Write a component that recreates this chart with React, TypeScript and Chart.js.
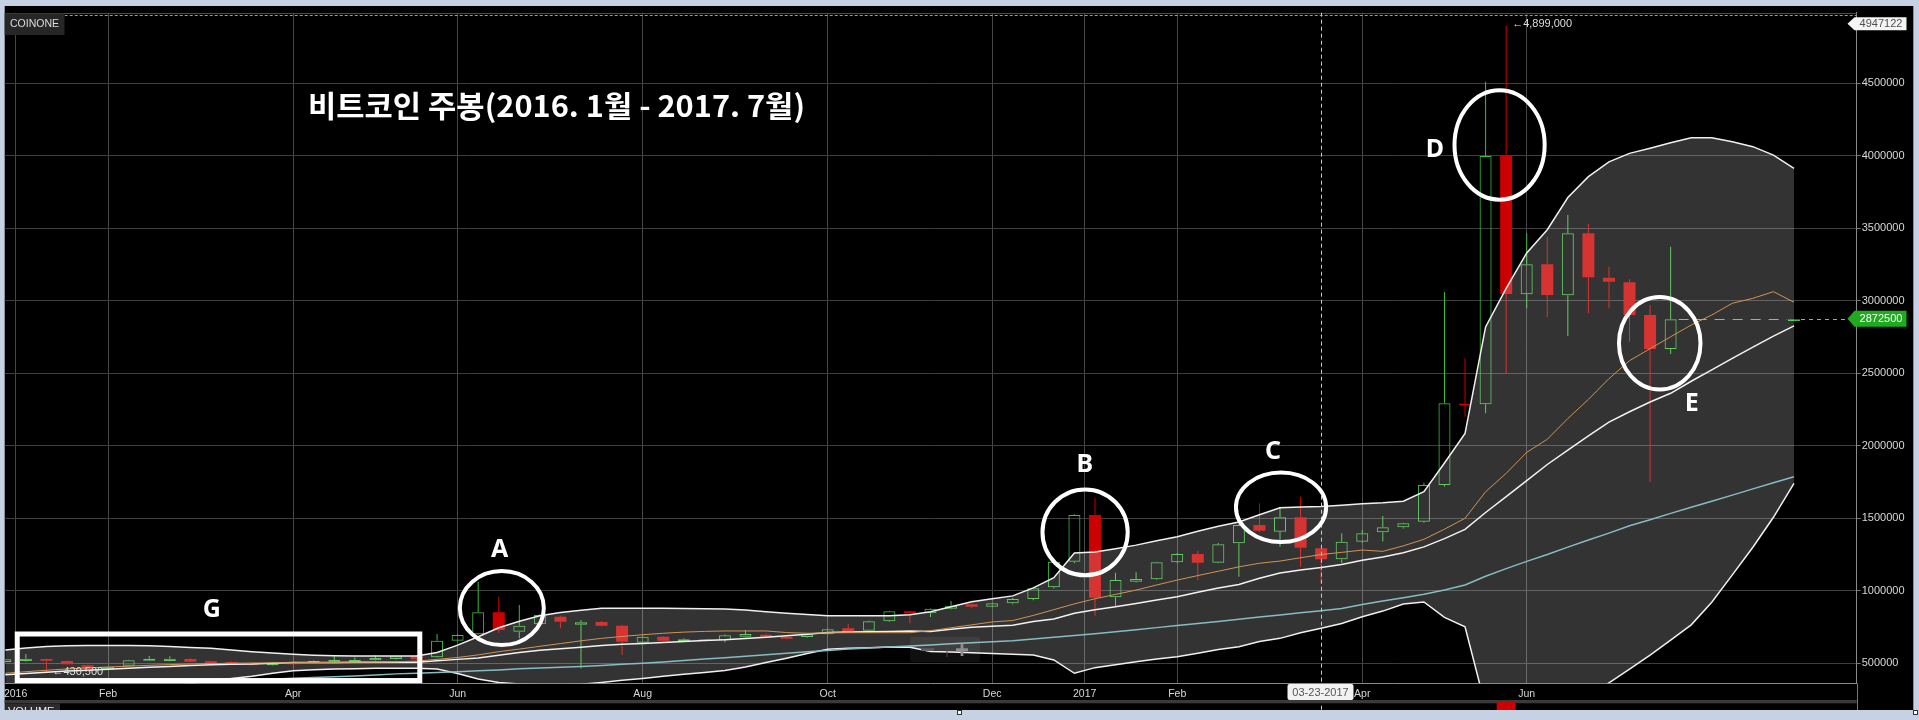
import React, { useEffect, useRef } from "react";
import { Chart, registerables } from "chart.js";

Chart.register(...registerables);

const W = 1919;
const H = 720;

// ---------------- data : weekly candles (thousand KRW), week 0 = 2015-12-28 ----------------
const OPEN_K = [
  509, 516, 530, 516, 486, 459, 483, 518, 516, 530,
  514, 509, 502, 486, 507, 509, 511, 511, 521, 530,
  548, 541, 656, 700, 852, 718, 769, 821, 766, 785,
  759, 642, 683, 652, 666, 661, 683, 697, 683, 681,
  700, 741, 725, 790, 859, 845, 877, 907, 890, 914,
  943, 1024, 1201, 1523, 955, 1063, 1079, 1197, 1254, 1194,
  1328, 1454, 1408, 1507, 1293, 1217, 1339, 1404, 1438, 1476,
  1730, 2290, 2286, 3999, 3045, 3252, 3038, 3466, 3159, 3128,
  2902, 2668, null, null, null, null, null, 2860,
];
const HIGH_K = [
  530, 564, 532, 520, 490, 480, 525, 550, 548, 534,
  518, 512, 505, 503, 510, 520, 550, 540, 553, 552,
  552, 702, 700, 1063, 959, 902, 840, 828, 799, 790,
  765, 690, 688, 672, 668, 700, 730, 705, 690, 705,
  738, 770, 795, 862, 862, 880, 930, 912, 917, 950,
  1020, 1205, 1528, 1638, 1125, 1128, 1200, 1260, 1276, 1330,
  1460, 1603, 1580, 1649, 1300, 1397, 1420, 1516, 1470, 1745,
  3060, 2603, 4511, 4899, 3466, 3442, 3592, 3530, 3235, 3148,
  2971, 3373, null, null, null, null, null, 2875,
];
const LOW_K = [
  505, 512, 430.5, 490, 460, 455, 480, 515, 514, 508,
  499, 497, 486, 483, 490, 506, 508, 508, 518, 527,
  525, 538, 650, 695, 711, 672, 760, 741, 466, 755,
  557, 635, 650, 648, 650, 645, 680, 680, 665, 678,
  697, 712, 720, 785, 776, 820, 873, 880, 887, 908,
  935, 1015, 1190, 828, 895, 1058, 1075, 1190, 1074, 1190,
  1097, 1408, 1304, 1166, 1050, 1190, 1330, 1340, 1430, 1470,
  1720, 2200, 2224, 2500, 2948, 2886, 2757, 2914, 2948, 2718,
  1752, 2633, null, null, null, null, null, 2860,
];
const CLOSE_K = [
  528, 532, 518, 493, 463, 477, 521, 532, 532, 511,
  502, 500, 490, 500, 493, 516, 523, 523, 537, 548,
  528, 656, 695, 852, 730, 759, 833, 787, 783, 759,
  649, 683, 656, 666, 656, 693, 702, 683, 670, 700,
  734, 718, 790, 859, 845, 877, 897, 890, 914, 943,
  1017, 1201, 1523, 952, 1074, 1081, 1197, 1254, 1194, 1321,
  1454, 1414, 1507, 1297, 1217, 1339, 1397, 1438, 1466, 1730,
  2293, 2280, 3999, 3047, 3252, 3040, 3466, 3162, 3132, 2902,
  2668, 2872.5, null, null, null, null, null, 2872.5,
];

// Bollinger band (20) and moving averages, thousand KRW
const BB_UPPER_K = [
  592, 605, 615, 621, 622, 622, 622, 621, 615, 609,
  603, 592, 580, 571, 562, 556, 552, 551, 550, 550,
  550, 575, 625, 683, 745, 790, 828, 850, 866, 879,
  879, 879, 879, 878, 877, 875, 868, 856, 845, 836,
  828, 828, 828, 828, 835, 856, 890, 925, 945, 965,
  1020, 1090, 1260, 1268, 1290, 1315, 1345, 1373, 1410, 1445,
  1475, 1525, 1573, 1578, 1582, 1590, 1600, 1607, 1618, 1683,
  1881, 2086, 2820, 3086, 3330, 3490, 3712, 3856, 3958, 4017,
  4052, 4090, 4125, 4125, 4097, 4063, 4005, 3914,
];
const BB_MIDDLE_K = [
  421, 430, 438, 446, 452, 459, 466, 473, 478, 484,
  490, 493, 495, 501, 505, 506, 506, 507, 508, 508,
  508, 517, 527, 537, 556, 574, 590, 600, 610, 623,
  631, 637, 644, 651, 657, 662, 671, 680, 690, 701,
  712, 715, 718, 720, 722, 719, 734, 748, 756, 763,
  788, 806, 845, 869, 890, 912, 937, 959, 990, 1020,
  1044, 1087, 1122, 1144, 1161, 1182, 1210, 1233, 1263, 1303,
  1360, 1424, 1540, 1650, 1760, 1871, 1970, 2069, 2163, 2235,
  2302, 2362, 2445, 2523, 2603, 2681, 2756, 2827,
];
const BB_LOWER_K = [
  250, 255, 262, 272, 283, 296, 310, 325, 342, 360,
  378, 395, 410, 432, 449, 456, 460, 463, 465, 466,
  466, 460, 430, 392, 368, 358, 352, 350, 355, 368,
  383, 395, 410, 425, 437, 450, 475, 505, 535, 567,
  597, 603, 608, 612, 610, 582, 578, 572, 568, 562,
  557, 523, 431, 470, 490, 510, 530, 545, 570, 595,
  614, 650, 672, 710, 741, 775, 821, 860, 909, 923,
  817, 752, 200, 214, 170, 230, 218, 274, 365, 460,
  557, 660, 765, 921, 1110, 1300, 1507, 1741,
];
const MA_ORANGE_K = [
  431, 442, 452, 461, 468, 474, 480, 486, 491, 495,
  498, 500, 502, 503, 504, 505, 506, 507, 508, 510,
  515, 527, 540, 558, 580, 598, 617, 636, 655, 672,
  685, 697, 707, 715, 720, 723, 723, 723, 712, 707,
  710, 711, 711, 711, 711, 725, 745, 765, 785, 795,
  830, 870, 910, 945, 975, 1005, 1040, 1074, 1105, 1135,
  1165, 1190, 1205, 1228, 1250, 1265, 1281, 1272, 1310, 1355,
  1425, 1500, 1683, 1810, 1955, 2045, 2188, 2320, 2463, 2587,
  2670, 2752, 2833, 2902, 2983, 3017, 3063, 2990,
];
const MA_TEAL_K = [
  320, 326, 331, 336, 341, 346, 351, 356, 361, 366,
  372, 378, 384, 390, 396, 402, 408, 413, 420, 427,
  432, 436, 442, 448, 454, 462, 467, 473, 478, 485,
  493, 500, 509, 519, 529, 539, 549, 559, 569, 579,
  589, 598, 605, 612, 620, 627, 635, 642, 648, 656,
  668, 680, 692, 704, 717, 731, 746, 760, 775, 789,
  803, 819, 833, 848, 863, 878, 906, 929, 952, 976,
  1005, 1040, 1100, 1153, 1203, 1250, 1301, 1350, 1398, 1448,
  1490, 1534, 1576, 1618, 1660, 1703, 1745, 1787,
];

// axis ticks (x in week index)
const X_TICK_POS = [0.5, 5, 14, 22, 31, 40, 48, 52.5, 57, 66, 74];
const X_TICK_LABELS = ["2016", "Feb", "Apr", "Jun", "Aug", "Oct", "Dec", "2017", "Feb", "Apr", "Jun"];
const Y_TICKS = [500000, 1000000, 1500000, 2000000, 2500000, 3000000, 3500000, 4000000, 4500000];
const X_MIN = -0.03;
const X_MAX = 90.05;
const Y_MIN = 362000;
const Y_MAX = 4987000;

// annotations
const TITLE = "비트코인 주봉(2016. 1월 - 2017. 7월)";
const LAST_PRICE = 2872500;
const LAST_PRICE_TEXT = "2872500";
const CROSS_WEEK = 64;
const CROSS_DATE = "03-23-2017";
const CROSS_VALUE_TEXT = "4947122";
const LOW_MARK = { week: 2, value: 430500, text: "←430,500" };
const HIGH_MARK = { week: 73, value: 4899000, text: "←4,899,000" };
const VOLUME_PEAK_WEEK = 73;
const CIRCLES = [
  { x: 24.15, y: 881000, rx: 2.14, ry: 269000 },
  { x: 52.52, y: 1403000, rx: 2.17, ry: 310000 },
  { x: 62.05, y: 1576000, rx: 2.29, ry: 253000 },
  { x: 72.68, y: 4075000, rx: 2.29, ry: 391000 },
  { x: 80.47, y: 2707000, rx: 2.08, ry: 333000 },
];
const LETTERS = [
  { t: "A", x: 24.05, y: 1295000 },
  { t: "G", x: 10.04, y: 879000 },
  { t: "B", x: 52.5, y: 1879000 },
  { t: "C", x: 61.66, y: 1971000 },
  { t: "D", x: 69.53, y: 4052000 },
  { t: "E", x: 82.03, y: 2304000 },
];
const G_BOX = { x0: 0.58, x1: 20.16, y0: 381000, y1: 702000 };

// ---------------- styles ----------------
const FRAME = "#c6d2e4";
const GREEN = "#3dbd3d";
const RED = "#cc0000";
const FONT = '"Liberation Sans", Arial, sans-serif';

const toK = (a: (number | null)[]) => a.map((v) => (v == null ? null : v * 1000));

export default function App() {
  const ref = useRef<HTMLCanvasElement>(null);

  useEffect(() => {
    const OPEN = toK(OPEN_K) as number[];
    const HIGH = toK(HIGH_K) as number[];
    const LOW = toK(LOW_K) as number[];
    const CLOSE = toK(CLOSE_K) as number[];
    const idx = OPEN.map((_, i) => i).filter((i) => OPEN[i] != null);
    const up = (i: number) => CLOSE[i] >= OPEN[i];
    const line = (a: (number | null)[]) => toK(a).map((v, i) => ({ x: i, y: v }));

    const overlay = {
      id: "overlay",
      beforeDraw(chart: any) {
        const ctx = chart.ctx;
        ctx.save();
        ctx.fillStyle = FRAME;
        ctx.fillRect(0, 0, W, H);
        ctx.fillStyle = "#000";
        ctx.fillRect(4.7, 6, 1913.3 - 4.7, 710 - 6);
        ctx.restore();
      },
      afterDraw(chart: any) {
        const { ctx, chartArea: ca, scales } = chart;
        const xs = scales.x;
        const ys = scales.y;
        const px = (v: number) => xs.getPixelForValue(v);
        const py = (v: number) => ys.getPixelForValue(v);
        ctx.save();

        // top border
        ctx.strokeStyle = "#4a4a4a";
        ctx.lineWidth = 1;
        ctx.beginPath();
        ctx.moveTo(ca.left, Math.round(ca.top) + 0.5);
        ctx.lineTo(ca.right, Math.round(ca.top) + 0.5);
        ctx.stroke();

        // crosshair
        ctx.strokeStyle = "#9a9a9a";
        ctx.setLineDash([3, 2]);
        ctx.beginPath();
        ctx.moveTo(ca.left, Math.round(ca.top) + 2.5);
        ctx.lineTo(ca.right, Math.round(ca.top) + 2.5);
        ctx.stroke();
        const cx = Math.round(px(CROSS_WEEK)) + 0.5;
        ctx.strokeStyle = "#c8c8c8";
        ctx.setLineDash([4, 3]);
        ctx.beginPath();
        ctx.moveTo(cx, ca.top);
        ctx.lineTo(cx, 710);
        ctx.stroke();

        // last price dashed line
        const lpY = Math.round(py(LAST_PRICE)) + 0.5;
        ctx.strokeStyle = "#a8a8a8";
        ctx.setLineDash([10, 8]);
        ctx.beginPath();
        ctx.moveTo(px(81) + 8, lpY);
        ctx.lineTo(px(87) - 7, lpY);
        ctx.stroke();
        ctx.setLineDash([4, 4]);
        ctx.beginPath();
        ctx.moveTo(px(87) + 7, lpY);
        ctx.lineTo(ca.right, lpY);
        ctx.stroke();
        ctx.setLineDash([]);

        // volume strip
        ctx.fillStyle = "#3a3a3a";
        ctx.fillRect(4.7, 700, ca.right - 4.7, 3.3);
        ctx.fillStyle = RED;
        ctx.fillRect(px(VOLUME_PEAK_WEEK) - 9.5, 701.7, 19, 8.3);
        ctx.save();
        ctx.beginPath();
        ctx.rect(0, 703.3, W, 6.7);
        ctx.clip();
        ctx.fillStyle = "#2c2c2c";
        ctx.fillRect(5, 703.3, 55, 8);
        ctx.fillStyle = "#eeeeee";
        ctx.font = `11px ${FONT}`;
        ctx.textBaseline = "middle";
        ctx.textAlign = "left";
        ctx.fillText("VOLUME", 8, 712);
        ctx.restore();
        ctx.strokeStyle = "#777";
        ctx.lineWidth = 1;
        ctx.beginPath();
        ctx.moveTo(Math.round(ca.right) + 0.5, ca.bottom);
        ctx.lineTo(Math.round(ca.right) + 0.5, 710);
        ctx.stroke();

        // COINONE tag
        ctx.fillStyle = "#262626";
        ctx.fillRect(4.7, 13.5, 59.8, 21.5);
        ctx.fillStyle = "#dddddd";
        ctx.font = `10.5px ${FONT}`;
        ctx.textBaseline = "middle";
        ctx.textAlign = "left";
        ctx.fillText("COINONE", 10, 24.5);

        // zoom control
        ctx.fillStyle = "rgba(255,255,255,0.06)";
        ctx.beginPath();
        ctx.roundRect(910, 636.7, 70, 25.6, 3);
        ctx.fill();
        ctx.fillStyle = "#5e5e5e";
        ctx.fillRect(921, 648.3, 13, 2.6);
        ctx.fillStyle = "#4a4a4a";
        ctx.fillRect(946.5, 646, 1, 11);
        ctx.fillStyle = "#8e8e8e";
        ctx.fillRect(956, 648.3, 12, 2.8);
        ctx.fillRect(960.6, 643.5, 2.8, 12.5);

        // title
        ctx.fillStyle = "#ffffff";
        ctx.font = `bold 30px "Noto Sans CJK KR", "Noto Sans", sans-serif`;
        ctx.textAlign = "left";
        ctx.textBaseline = "middle";
        const tw = ctx.measureText(TITLE).width;
        ctx.save();
        ctx.translate(308, 105.5);
        ctx.scale(497 / tw, 1);
        ctx.fillText(TITLE, 0, 0);
        ctx.restore();

        // G box
        ctx.strokeStyle = "#ffffff";
        ctx.lineWidth = 5;
        const gx0 = px(G_BOX.x0);
        const gx1 = px(G_BOX.x1);
        const gy0 = py(G_BOX.y0);
        const gy1 = py(G_BOX.y1);
        ctx.strokeRect(gx0, gy1, gx1 - gx0, gy0 - gy1);

        // circles
        ctx.lineWidth = 4;
        for (const c of CIRCLES) {
          const ccx = px(c.x);
          const ccy = py(c.y);
          const rx = px(c.x + c.rx) - ccx - 2;
          const ry = py(c.y - c.ry) - ccy - 2;
          ctx.beginPath();
          ctx.ellipse(ccx, ccy, rx, ry, 0, 0, Math.PI * 2);
          ctx.stroke();
        }

        // letters
        ctx.fillStyle = "#ffffff";
        ctx.font = `bold 25px "Noto Sans", sans-serif`;
        ctx.textAlign = "center";
        ctx.textBaseline = "alphabetic";
        for (const l of LETTERS) {
          ctx.fillText(l.t, px(l.x), py(l.y) + 9);
        }

        // extreme labels
        ctx.fillStyle = "#dddddd";
        ctx.font = `11px ${FONT}`;
        ctx.textAlign = "left";
        ctx.textBaseline = "middle";
        ctx.fillText(LOW_MARK.text, px(LOW_MARK.week) + 6, py(LOW_MARK.value) - 1);
        ctx.fillText(HIGH_MARK.text, px(HIGH_MARK.week) + 6, py(HIGH_MARK.value) - 1);

        // right tags
        const tag = (yc: number, h: number, fill: string, color: string, text: string) => {
          ctx.fillStyle = fill;
          ctx.beginPath();
          ctx.moveTo(1847.5, yc);
          ctx.lineTo(1854.5, yc - h / 2);
          ctx.lineTo(1906.5, yc - h / 2);
          ctx.lineTo(1906.5, yc + h / 2);
          ctx.lineTo(1854.5, yc + h / 2);
          ctx.closePath();
          ctx.fill();
          ctx.fillStyle = color;
          ctx.font = `11px ${FONT}`;
          ctx.textAlign = "center";
          ctx.textBaseline = "middle";
          ctx.fillText(text, 1881, yc + 0.5);
        };
        tag(23.7, 13, "#f4f4f4", "#505050", CROSS_VALUE_TEXT);
        tag(py(LAST_PRICE) - 0.5, 16, "#1faa1f", "#ffffff", LAST_PRICE_TEXT);

        // date tag
        ctx.fillStyle = "#f2f2f2";
        ctx.beginPath();
        ctx.roundRect(cx - 34, 684, 66, 16, 2);
        ctx.fill();
        ctx.fillStyle = "#555555";
        ctx.font = `11px ${FONT}`;
        ctx.textAlign = "center";
        ctx.textBaseline = "middle";
        ctx.fillText(CROSS_DATE, cx - 1, 692.5);

        // resize handles
        ctx.fillStyle = "#ffffff";
        ctx.strokeStyle = "#333";
        ctx.lineWidth = 1;
        ctx.fillRect(957.5, 710.5, 4, 4);
        ctx.strokeRect(957.5, 710.5, 4, 4);
        ctx.fillRect(1913.5, 710.5, 4, 4);
        ctx.strokeRect(1913.5, 710.5, 4, 4);

        ctx.restore();
      },
    };

    const cfg: any = {
      type: "line",
      data: {
        datasets: [
          { type: "line", data: line(MA_ORANGE_K), borderColor: "#d09456", borderWidth: 1, pointRadius: 0, tension: 0, fill: false, order: 1 },
          { type: "line", data: line(BB_MIDDLE_K), borderColor: "#f2f2f2", borderWidth: 1.5, pointRadius: 0, tension: 0, fill: false, order: 1 },
          { type: "line", data: line(MA_TEAL_K), borderColor: "#86bcc2", borderWidth: 1.5, pointRadius: 0, tension: 0, fill: false, order: 1 },
          { type: "line", data: line(BB_LOWER_K), borderColor: "#f0f0f0", borderWidth: 1.5, pointRadius: 0, tension: 0, fill: false, order: 2 },
          {
            type: "line", data: line(BB_UPPER_K), borderColor: "#f0f0f0", borderWidth: 1.5, pointRadius: 0, tension: 0,
            fill: { target: 3 }, backgroundColor: "rgba(255,255,255,0.2)", order: 3,
          },
          {
            type: "bar",
            data: idx.map((i) => ({ x: i, y: [OPEN[i], CLOSE[i]] })),
            backgroundColor: idx.map((i) => (up(i) ? "rgba(0,0,0,0)" : RED)),
            borderColor: idx.map((i) => (up(i) ? GREEN : RED)),
            borderWidth: idx.map((i) => (up(i) ? 1 : 0)),
            borderSkipped: false, grouped: false, maxBarThickness: 12, barPercentage: 1, categoryPercentage: 1,
            minBarLength: 1, inflateAmount: 0, order: 10,
          },
          {
            type: "bar",
            data: idx.map((i) => ({ x: i, y: [Math.max(OPEN[i], CLOSE[i]), HIGH[i]] })),
            backgroundColor: idx.map((i) => (up(i) ? GREEN : RED)),
            borderWidth: 0, grouped: false, maxBarThickness: 1, barPercentage: 1, categoryPercentage: 1, inflateAmount: 0, order: 11,
          },
          {
            type: "bar",
            data: idx.map((i) => ({ x: i, y: [LOW[i], Math.min(OPEN[i], CLOSE[i])] })),
            backgroundColor: idx.map((i) => (up(i) ? GREEN : RED)),
            borderWidth: 0, grouped: false, maxBarThickness: 1, barPercentage: 1, categoryPercentage: 1, inflateAmount: 0, order: 11,
          },
        ],
      },
      options: {
        responsive: false,
        animation: false,
        devicePixelRatio: 1,
        events: [],
        layout: { padding: { left: 4.7, top: 12.7, right: 6, bottom: 10 } },
        plugins: { legend: { display: false }, tooltip: { enabled: false }, title: { display: false } },
        scales: {
          x: {
            type: "linear",
            min: X_MIN,
            max: X_MAX,
            offset: false,
            afterBuildTicks: (s: any) => {
              s.ticks = X_TICK_POS.map((v) => ({ value: v }));
            },
            afterFit: (s: any) => {
              s.height = 26.7;
              s.paddingLeft = 0;
              s.paddingRight = 0;
            },
            grid: { color: "#474747", drawTicks: false, offset: false },
            border: { color: "#8a8a8a" },
            ticks: {
              autoSkip: false,
              maxRotation: 0,
              padding: 5,
              color: "#d8d8d8",
              font: { size: 10.5, family: FONT },
              callback: (_v: any, i: number) => X_TICK_LABELS[i],
            },
          },
          y: {
            type: "linear",
            position: "right",
            min: Y_MIN,
            max: Y_MAX,
            afterBuildTicks: (s: any) => {
              s.ticks = Y_TICKS.map((v) => ({ value: v }));
            },
            afterFit: (s: any) => {
              s.width = 56.3;
              s.paddingTop = 0;
              s.paddingBottom = 0;
            },
            grid: { color: "#3e3e3e", tickLength: 4, tickColor: "#777" },
            border: { color: "#8a8a8a" },
            ticks: {
              padding: 1,
              color: "#d8d8d8",
              font: { size: 11, family: FONT },
              callback: (v: any) => String(v),
            },
          },
        },
      },
      plugins: [overlay],
    };

    const chart = new Chart(ref.current as HTMLCanvasElement, cfg);
    return () => chart.destroy();
  }, []);

  return (
    <div style={{ position: "fixed", left: 0, top: 0, width: W, height: H, background: FRAME }}>
      <canvas ref={ref} width={W} height={H} style={{ display: "block", width: W, height: H }} />
    </div>
  );
}
